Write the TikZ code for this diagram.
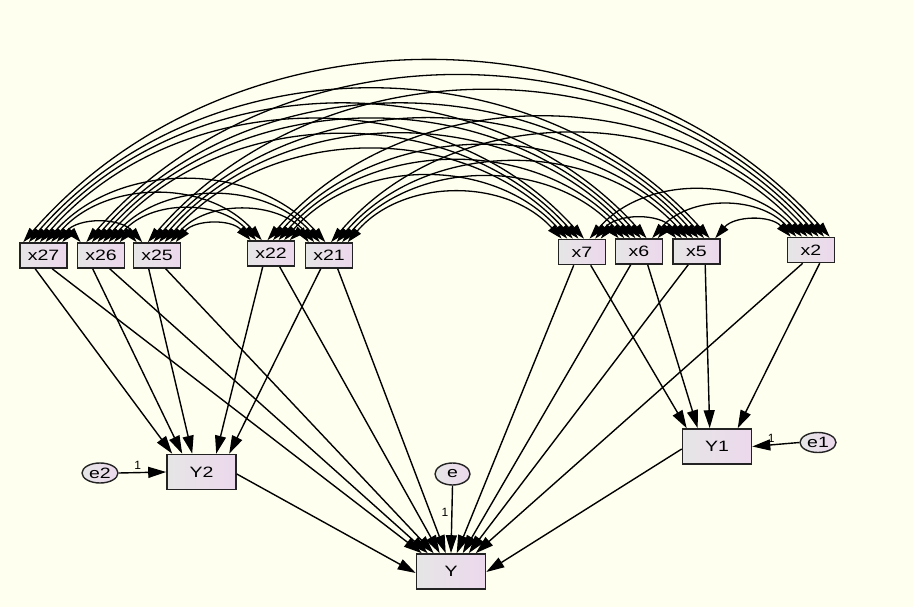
\documentclass[tikz,border=0pt]{standalone}
\usepackage{fontspec}
\setmainfont{Liberation Sans}
\usepackage{graphicx}
\usetikzlibrary{arrows.meta,calc,shapes.geometric}
\definecolor{bgc}{RGB}{255,255,240}
\definecolor{boxl}{RGB}{230,230,230}
\definecolor{boxr}{RGB}{236,216,236}
\definecolor{edgec}{RGB}{35,35,35}
\newcommand\wt[1]{\scalebox{1.3}[1]{#1}}
\tikzset{
 obs/.style={rectangle, draw=edgec, line width=1.6pt, left color=boxl, right color=boxr, inner sep=0pt, font=\fontsize{15}{15}\selectfont},
 xbox/.style={obs, minimum width=47pt, minimum height=25pt},
 ybox/.style={obs, minimum width=69pt, minimum height=35pt},
 errc/.style={ellipse, draw=edgec, line width=1.4pt, left color=boxl, right color=boxr, inner sep=0pt, minimum width=36pt, minimum height=20pt, font=\fontsize{15}{15}\selectfont},
 reg/.style={line width=1.4pt, -{Triangle[length=18pt,width=11pt]}},
 cov/.style={line width=1.3pt, {Triangle[length=15pt,width=9pt]}-{Triangle[length=15pt,width=9pt]}},
 one/.style={font=\fontsize{12}{12}\selectfont, inner sep=1pt},
}
\begin{document}
\begin{tikzpicture}[x=1pt,y=1pt]
\fill[bgc] (0,0) rectangle (913,-607);
\useasboundingbox (0,0) rectangle (913,-607);
% observed exogenous
\node[xbox] (n0) at (43.5,-255.5) {\wt{x27}};
\node[xbox] (n1) at (101,-255.5) {\wt{x26}};
\node[xbox] (n2) at (157,-255.5) {\wt{x25}};
\node[xbox] (n3) at (271,-253.5) {\wt{x22}};
\node[xbox] (n4) at (329,-255.5) {\wt{x21}};
\node[xbox] (n5) at (582,-252) {\wt{x7}};
\node[xbox] (n6) at (639,-251.5) {\wt{x6}};
\node[xbox] (n7) at (696.5,-251.5) {\wt{x5}};
\node[xbox] (n8) at (811,-250) {\wt{x2}};
% endogenous
\node[ybox] (Y2) at (201.5,-472) {\wt{Y2}};
\node[ybox] (Y1) at (717,-446.5) {\wt{Y1}};
\node[ybox] (Y) at (451,-571.5) {\wt{Y}};
% errors
\node[errc] (e2) at (100,-473) {\wt{e2}};
\node[errc] (e1) at (818,-442.5) {\wt{e1}};
\node[errc, minimum width=35pt, minimum height=22pt] (e) at (452.5,-474) {\wt{e}};
% covariances
\foreach \i in {0,...,7}{
  \pgfmathtruncatemacro\js{\i+1}
  \foreach \j in {\js,...,8}{
    \pgfmathsetmacro\oa{4+(\i+8-\j)*39/7}
    \pgfmathsetmacro\ob{4+(\j-1-\i)*39/7}
    \draw[cov] ($(n\i.north west)+(\oa,0)$) to[bend left=48.5] ($(n\j.north west)+(\ob,0)$);
  }
}
% paths to Y2
\foreach \s/\t in {0/6,1/16,2/26,3/50,4/63}{
  \draw[reg] ($(n\s.south west)+(16,0)$) -- ($(Y2.north west)+(\t,0)$);
}
% paths to Y1
\foreach \s/\t in {5/5,6/16,7/28,8/56}{
  \draw[reg] ($(n\s.south west)+(33,0)$) -- ($(Y1.north west)+(\t,0)$);
}
% paths to Y from left group
\foreach \s/\t in {0/6,1/12,2/18,3/24,4/30}{
  \draw[reg] ($(n\s.south west)+(33,0)$) -- ($(Y.north west)+(\t,0)$);
}
% paths to Y from right group
\foreach \s/\t in {5/41,6/47,7/53,8/60}{
  \draw[reg] ($(n\s.south west)+(16,0)$) -- ($(Y.north west)+(\t,0)$);
}
\draw[reg] ($(Y2.east)+(0,-2)$) -- ($(Y.west)+(0,-1.5)$);
\draw[reg] ($(Y1.west)+(0,-2.5)$) -- ($(Y.east)+(0,-0.5)$);
% error terms
\draw[reg] (e2.east) -- (Y2.west) node[one, pos=0.4, above=1pt]{1};
\draw[reg] (e1.west) -- (Y1.east) node[one, pos=0.6, above=1pt]{1};
\draw[reg] (e.south) -- (Y.north) node[one, pos=0.4, left=2pt]{1};
\end{tikzpicture}
\end{document}
